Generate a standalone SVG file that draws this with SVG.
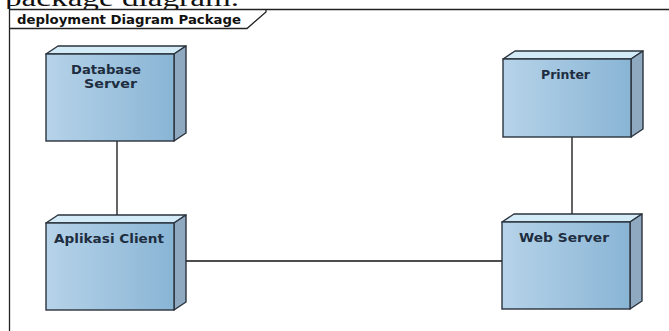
<svg xmlns="http://www.w3.org/2000/svg" width="669" height="331" viewBox="0 0 669 331">
  <defs>
    <linearGradient id="front" x1="0" y1="0" x2="1" y2="0">
      <stop offset="0" stop-color="#b6d3e9"/>
      <stop offset="1" stop-color="#89b5d5"/>
    </linearGradient>
    <style>
      .front { fill: url(#front); stroke: #2b333d; stroke-width: 1.4; }
      .top { fill: #d3eaf7; stroke: #2b333d; stroke-width: 1.4; stroke-linejoin: round; }
      .side { fill: #8ea9c0; stroke: #2b333d; stroke-width: 1.4; stroke-linejoin: round; }
      .lbl { font-family: "DejaVu Sans", sans-serif; font-weight: bold; font-size: 12px; fill: #1e2d40; }
      .conn { stroke: #111; stroke-width: 1.3; fill: none; }
      .frame { stroke: #222; stroke-width: 1.3; fill: none; }
    </style>
  </defs>
  <rect width="669" height="331" fill="#ffffff"/>
  <text x="5" y="6" font-family="'Liberation Serif', serif" font-size="24" fill="#111" textLength="234" lengthAdjust="spacingAndGlyphs">package diagram.</text>
  <rect x="0" y="9" width="669" height="322" fill="#ffffff"/>

  <g id="frame">
    <path class="frame" d="M9.5,331 V9.5 H669"/>
    <path class="frame" d="M9.5,28.5 H247 L266,12 V9.5"/>
    <text x="17" y="23.5" font-family="'DejaVu Sans', sans-serif" font-weight="bold" font-size="12" fill="#111" textLength="224" lengthAdjust="spacingAndGlyphs">deployment Diagram Package</text>
  </g>

  <g id="connectors">
    <line class="conn" x1="117" y1="141" x2="117" y2="215"/>
    <line class="conn" x1="572" y1="137" x2="572" y2="214"/>
    <line class="conn" x1="186" y1="261" x2="502" y2="261"/>
  </g>

  <g id="database-server">
    <polygon class="top" points="46,54 58,46 186,46 174,54"/>
    <polygon class="side" points="174,54 186,46 186,133 174,141"/>
    <rect class="front" x="46" y="54" width="128" height="87"/>
    <text class="lbl" x="71" y="74" textLength="70" lengthAdjust="spacingAndGlyphs">Database</text>
    <text class="lbl" x="84" y="88" textLength="53" lengthAdjust="spacingAndGlyphs">Server</text>
  </g>

  <g id="printer">
    <polygon class="top" points="503,59 515,51 643,51 631,59"/>
    <polygon class="side" points="631,59 643,51 643,129 631,137"/>
    <rect class="front" x="503" y="59" width="128" height="78"/>
    <text class="lbl" x="541" y="79" textLength="49" lengthAdjust="spacingAndGlyphs">Printer</text>
  </g>

  <g id="aplikasi-client">
    <polygon class="top" points="46,223 58,215 186,215 174,223"/>
    <polygon class="side" points="174,223 186,215 186,302 174,310"/>
    <rect class="front" x="46" y="223" width="128" height="87"/>
    <text class="lbl" x="54" y="243" textLength="110" lengthAdjust="spacingAndGlyphs">Aplikasi Client</text>
  </g>

  <g id="web-server">
    <polygon class="top" points="502,222 514,214 642,214 630,222"/>
    <polygon class="side" points="630,222 642,214 642,301 630,309"/>
    <rect class="front" x="502" y="222" width="128" height="87"/>
    <text class="lbl" x="519" y="242" textLength="90" lengthAdjust="spacingAndGlyphs">Web Server</text>
  </g>
</svg>
